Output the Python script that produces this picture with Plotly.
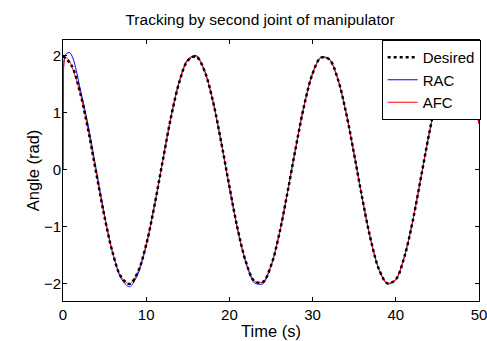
import plotly.graph_objects as go

# Desired trajectory (t step 1 s)
t_des = list(range(0, 51))
y_des = [2.00, 1.84, 1.39, 0.72, -0.06, -0.83, -1.47, -1.88, -2.00, -1.79,
         -1.31, -0.62, 0.17, 0.94, 1.55, 1.92, 1.99, 1.74, 1.22, 0.50,
         -0.29, -1.04, -1.62, -1.95, -1.97, -1.68, -1.12, -0.38, 0.41, 1.14,
         1.69, 1.97, 1.94, 1.61, 1.02, 0.27, -0.52, -1.23, -1.75, -1.99,
         -1.92, -1.54, -0.92, -0.15, 0.63, 1.32, 1.80, 2.00, 1.87, 1.46, 0.82]

# RAC response
t_rac = [0, 0.05, 0.15, 0.4, 0.8, 1.2, 1.6, 2] + list(range(3, 51))
y_rac = [0.00, 1.50, 1.95, 2.04, 2.06, 1.96, 1.74, 1.47,
         0.80, 0.00, -0.80, -1.47, -1.91, -2.05, -1.83,
         -1.33, -0.62, 0.17, 0.95, 1.57, 1.94, 2.01, 1.75, 1.22, 0.49,
         -0.31, -1.06, -1.64, -1.98, -2.00, -1.69, -1.12, -0.38, 0.41, 1.15,
         1.70, 1.98, 1.95, 1.61, 1.02, 0.27, -0.53, -1.24, -1.76, -2.00,
         -1.93, -1.54, -0.92, -0.15, 0.63, 1.32, 1.80, 2.00, 1.87, 1.46, 0.81]

# AFC response
t_afc = [0, 0.03, 0.1, 0.3, 0.6] + list(range(1, 51))
y_afc = [0.00, 1.20, 1.85, 1.97, 1.95,
         1.84, 1.39, 0.72, -0.06, -0.83, -1.47, -1.88, -2.00, -1.79,
         -1.31, -0.62, 0.17, 0.94, 1.55, 1.92, 1.99, 1.74, 1.22, 0.50,
         -0.29, -1.04, -1.62, -1.95, -1.97, -1.68, -1.12, -0.38, 0.41, 1.14,
         1.69, 1.97, 1.94, 1.61, 1.02, 0.27, -0.52, -1.23, -1.75, -1.99,
         -1.92, -1.54, -0.92, -0.15, 0.63, 1.32, 1.80, 2.00, 1.87, 1.46, 0.82]

x_ticks = [0, 10, 20, 30, 40, 50]
y_ticks = [-2, -1, 0, 1, 2]

font = "Liberation Sans, Arial, sans-serif"

fig = go.Figure()
fig.add_trace(go.Scatter(x=t_rac, y=y_rac, mode="lines", name="RAC", legendrank=2,
                         line=dict(color="#0000ff", width=1, shape="spline", smoothing=0.8)))
fig.add_trace(go.Scatter(x=t_afc, y=y_afc, mode="lines", name="AFC", legendrank=3,
                         line=dict(color="#ff0000", width=1, shape="spline", smoothing=0.8)))
fig.add_trace(go.Scatter(x=t_des, y=y_des, mode="lines", name="Desired", legendrank=1,
                         line=dict(color="black", width=2.5, dash="dot", shape="spline", smoothing=1)))

axis_common = dict(showline=True, linecolor="black", linewidth=1, mirror="ticks",
                   ticks="inside", ticklen=4, tickcolor="black", showgrid=False,
                   zeroline=False, automargin=False, ticklabeloverflow="allow",
                   tickfont=dict(family=font, size=15, color="black"))

fig.update_layout(
    width=487, height=341,
    margin=dict(l=63, r=8, t=40, b=40, autoexpand=False),
    paper_bgcolor="white", plot_bgcolor="white",
    font=dict(family=font, size=15, color="black"),
    title=dict(text="Tracking by second joint of manipulator", x=260 / 487, xanchor="center",
               xref="container",
               y=1 - 20 / 341, yanchor="middle", yref="container",
               font=dict(family=font, size=15.5, color="black")),
    xaxis=dict(range=[0, 50], tickvals=x_ticks,
               title=dict(text="Time (s)", standoff=3, font=dict(family=font, size=16.5)),
               **axis_common),
    yaxis=dict(range=[-2.3, 2.28], tickvals=y_ticks, ticklabelstandoff=-2,
               title=dict(text="Angle (rad)", standoff=0, font=dict(family=font, size=16.5)),
               **axis_common),
    legend=dict(x=1.004, y=1, xanchor="right", yanchor="top", bgcolor="white",
                bordercolor="black", borderwidth=1, traceorder="normal",
                font=dict(family=font, size=15, color="black"),
                itemwidth=30, tracegroupgap=0),
    showlegend=True,
)

fig.write_html("out.html")
